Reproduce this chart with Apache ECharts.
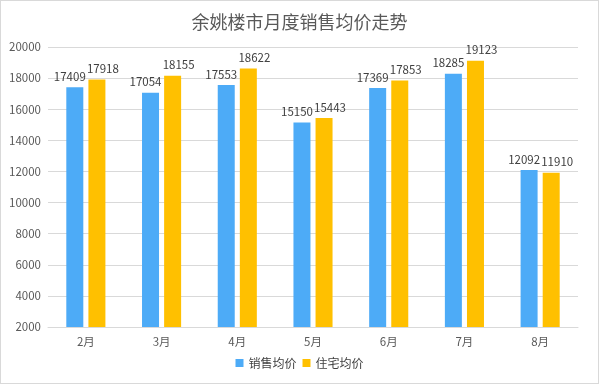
<!DOCTYPE html>
<html><head><meta charset="utf-8">
<script src="https://cdn.jsdelivr.net/npm/echarts@6/dist/echarts.min.js"></script>
<style>html,body{margin:0;padding:0;background:#fff}#c{width:599px;height:384px;box-sizing:border-box;border:1px solid #d9d9d9}</style>
</head><body><div id="c"></div>
<script>
const categories = ['2月','3月','4月','5月','6月','7月','8月'];
const salesAvg = [17409, 17054, 17553, 15150, 17369, 18285, 12092];
const housingAvg = [17918, 18155, 18622, 15443, 17853, 19123, 11910];
const yTicks = {min: 2000, max: 20000, interval: 2000};
const font = '"Noto Sans CJK SC", "Noto Sans", sans-serif';
const chart = echarts.init(document.getElementById('c'), null, {renderer: 'canvas'});
const lbl = (dx) => ({show: true, position: 'top', color: '#404040', fontSize: 11.5, fontFamily: font, distance: 5, offset: [dx, 0]});
chart.setOption({
  animation: false,
  textStyle: {fontFamily: font},
  title: {text: '余姚楼市月度销售均价走势', left: 'center', top: 7,
    textStyle: {fontSize: 18, fontWeight: 'normal', color: '#595959', fontFamily: font}},
  legend: {bottom: 9, itemWidth: 8, itemHeight: 8, itemGap: 6, icon: 'rect',
    textStyle: {fontSize: 12, color: '#404040', fontFamily: font}, data: ['销售均价','住宅均价']},
  grid: {left: 47, right: 20, top: 46, bottom: 56},
  xAxis: {type: 'category', data: categories,
    axisLine: {lineStyle: {color: '#d9d9d9'}}, axisTick: {show: false},
    axisLabel: {color: '#595959', fontSize: 11.5, margin: 9, fontFamily: font}},
  yAxis: {type: 'value', min: yTicks.min, max: yTicks.max, interval: yTicks.interval,
    axisLine: {show: false}, axisTick: {show: false},
    splitLine: {lineStyle: {color: '#d9d9d9'}},
    axisLabel: {color: '#595959', fontSize: 11.5, margin: 7, fontFamily: font, formatter: v => String(v)}},
  series: [
    {name: '销售均价', type: 'bar', data: salesAvg, itemStyle: {color: '#4dabf7'},
      barWidth: 17, barGap: '30%', label: lbl(-5)},
    {name: '住宅均价', type: 'bar', data: housingAvg, itemStyle: {color: '#ffc000'},
      barWidth: 17, label: lbl(6)}
  ]
});
</script></body></html>
